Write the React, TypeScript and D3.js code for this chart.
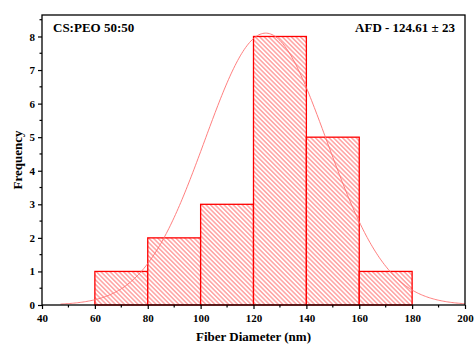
import * as d3 from "d3"
import React, { useRef, useEffect } from 'react';

// histogram bins (nm) and counts
const binStarts = [60, 80, 100, 120, 140, 160];
const binWidth = 20;
const counts = [1, 2, 3, 8, 5, 1];
const xTicks = [40, 60, 80, 100, 120, 140, 160, 180, 200];
const yTicks = [0, 1, 2, 3, 4, 5, 6, 7, 8];

// normal fit
const fitMean = 124.61;
const fitSd = 23;
const fitPeak = 8.1;
const fitRange = [47, 200];

const W = 474;
const H = 346;

const App: React.FC = () => {
    const svgRef = useRef<SVGSVGElement | null>(null);

    useEffect(() => {
        const l = 42, r = 465, t = 15, b = 305;

        const svg = d3.select(svgRef.current)
            .attr('width', W)
            .attr('height', H)
            .style('font-family', "'Liberation Serif', 'Times New Roman', serif");
        svg.selectAll("*").remove();

        svg.append('rect')
            .attr('width', W)
            .attr('height', H)
            .attr('fill', '#FFFFFF');

        const x = d3.scaleLinear().domain([40, 200]).range([l, r]);
        const y = d3.scaleLinear().domain([0, 8.64]).range([b, t]);

        // hatch pattern
        const defs = svg.append('defs');
        const pat = defs.append('pattern')
            .attr('id', 'hatch')
            .attr('patternUnits', 'userSpaceOnUse')
            .attr('width', 3.2)
            .attr('height', 3.2)
            .attr('patternTransform', 'rotate(-45)');
        pat.append('rect').attr('width', 3.2).attr('height', 3.2).attr('fill', '#fff');
        pat.append('line')
            .attr('x1', 0.8).attr('y1', 0)
            .attr('x2', 0.8).attr('y2', 3.2)
            .attr('stroke', '#ff9494')
            .attr('stroke-width', 1.3);

        // bars
        svg.append('g').selectAll('rect')
            .data(binStarts.map((s, i) => ({ s, c: counts[i] })))
            .enter()
            .append('rect')
            .attr('x', d => x(d.s))
            .attr('y', d => y(d.c))
            .attr('width', d => x(d.s + binWidth) - x(d.s))
            .attr('height', d => y(0) - y(d.c))
            .attr('fill', 'url(#hatch)')
            .attr('stroke', '#ff0000')
            .attr('stroke-width', 1.3);

        // fitted curve
        const pts = d3.range(fitRange[0], fitRange[1] + 0.01, 0.5).map(v => [v, fitPeak * Math.exp(-((v - fitMean) ** 2) / (2 * fitSd * fitSd))]);
        svg.append('path')
            .attr('d', d3.line<number[]>().x(d => x(d[0])).y(d => y(d[1]))(pts))
            .attr('fill', 'none')
            .attr('stroke', '#ff7070')
            .attr('stroke-width', 0.9);

        // frame
        svg.append('rect')
            .attr('x', l).attr('y', t)
            .attr('width', r - l).attr('height', b - t)
            .attr('fill', 'none')
            .attr('stroke', '#000')
            .attr('stroke-width', 1.3);

        // x axis
        const xa = svg.append('g').attr('transform', `translate(0,${b})`);
        xa.call(d3.axisBottom(x).tickValues(xTicks).tickSize(4).tickFormat(d3.format('d')));
        xa.append('g').selectAll('line')
            .data(d3.range(50, 200, 20))
            .enter().append('line')
            .attr('x1', d => x(d)).attr('x2', d => x(d))
            .attr('y1', 0).attr('y2', 2.5)
            .attr('stroke', '#000').attr('stroke-width', 1.2);

        // y axis
        const ya = svg.append('g').attr('transform', `translate(${l},0)`);
        ya.call(d3.axisLeft(y).tickValues(yTicks).tickSize(4).tickFormat(d3.format('d')));
        ya.append('g').selectAll('line')
            .data(d3.range(0.5, 8.6, 1))
            .enter().append('line')
            .attr('y1', d => y(d)).attr('y2', d => y(d))
            .attr('x1', 0).attr('x2', -2.5)
            .attr('stroke', '#000').attr('stroke-width', 1.2);

        svg.selectAll('.domain').remove();
        xa.attr('font-family', null);
        ya.attr('font-family', null);
        svg.selectAll('.tick line').attr('stroke-width', 1.2);
        svg.selectAll('.tick text')
            .style('font-family', "'Liberation Serif', serif")
            .attr('font-weight', 'bold')
            .attr('font-size', 11)
            .attr('fill', '#000');
        xa.selectAll('.tick text').attr('dy', '0.9em');
        ya.selectAll('.tick text').attr('x', -7);

        // titles
        const addText = (tx: string, xx: number, yy: number, anchor: string, transform?: string) => {
            const el = svg.append('text')
                .attr('text-anchor', anchor)
                .style('font-family', "'Liberation Serif', serif")
                .attr('font-weight', 'bold').attr('font-size', 13)
                .text(tx);
            if (transform) el.attr('transform', transform);
            else el.attr('x', xx).attr('y', yy);
        };
        addText('Fiber Diameter (nm)', (l + r) / 2, 341, 'middle');
        addText('Frequency', 0, 0, 'middle', `translate(22,${(t + b) / 2}) rotate(-90)`);
        addText('CS:PEO 50:50', 53, 32, 'start');
        addText('AFD - 124.61 ± 23', 455, 32, 'end');
    }, []);

    return (
        <div style={{ position: 'absolute', left: 0, top: 0 }}>
            <svg ref={svgRef} style={{ display: 'block' }}></svg>
        </div>
    );
};

export default App;
